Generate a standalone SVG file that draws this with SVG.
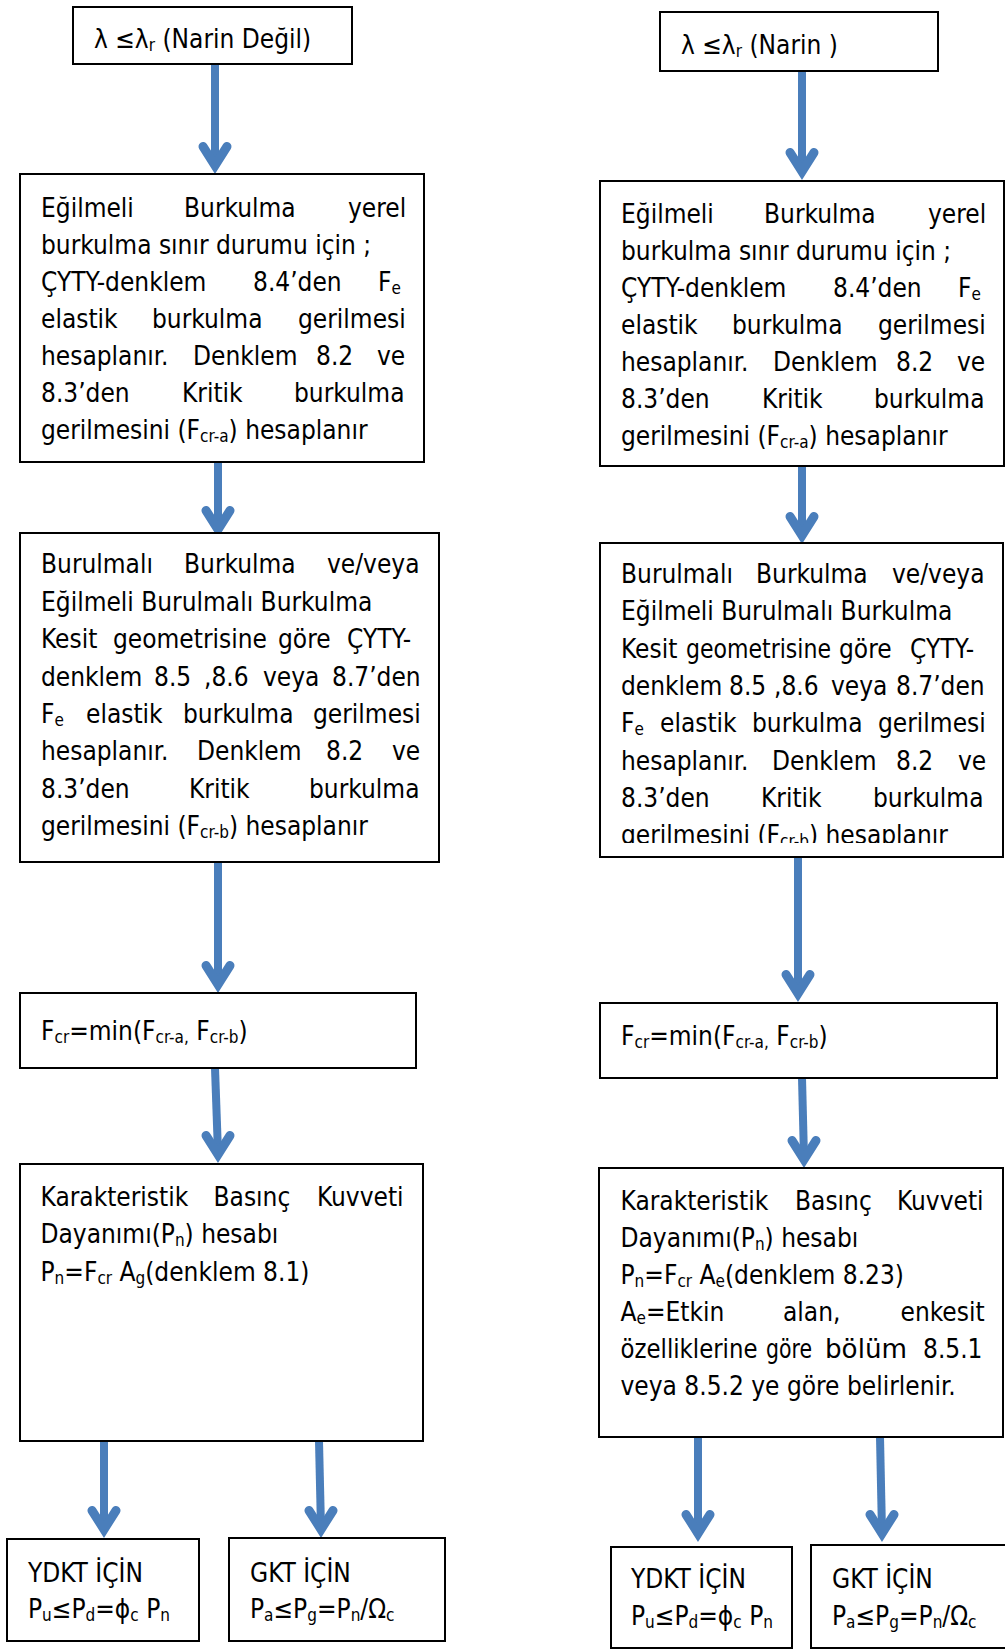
<svg xmlns="http://www.w3.org/2000/svg" xmlns:xlink="http://www.w3.org/1999/xlink" width="1005" height="1650" viewBox="0 0 1005 1650">
<style>
.box{fill:#fff;stroke:#000;stroke-width:2}
text{font-family:"DejaVu Sans Condensed","DejaVu Sans",sans-serif;font-size:26px;fill:#000}
.s{font-size:17px}
.shaft{stroke:#4A7EBB;stroke-width:8;fill:none}
.head{stroke:#4A7EBB;stroke-width:9;fill:none;stroke-linecap:round;stroke-linejoin:miter}
</style>
<defs>
<path id="head" class="head" d="M-12,-27.5 L0,-8.5 L12,-27.5"/>
<clipPath id="clipR3"><rect x="600" y="543" width="404" height="300"/></clipPath>
</defs>

<g id="connectors">
<line class="shaft" x1="215" y1="64" x2="215" y2="164"/><use href="#head" x="215" y="174"/>
<line class="shaft" x1="802" y1="71" x2="802" y2="170"/><use href="#head" x="802" y="180"/>
<line class="shaft" x1="218" y1="462" x2="218" y2="528"/><use href="#head" x="218" y="538"/>
<line class="shaft" x1="802" y1="466" x2="802" y2="534"/><use href="#head" x="802" y="544"/>
<line class="shaft" x1="218" y1="862" x2="218" y2="983"/><use href="#head" x="218" y="993"/>
<line class="shaft" x1="798" y1="857" x2="798" y2="992"/><use href="#head" x="798" y="1002"/>
<line class="shaft" x1="215" y1="1068" x2="218" y2="1153"/><use href="#head" x="218" y="1163"/>
<line class="shaft" x1="802" y1="1078" x2="804" y2="1158"/><use href="#head" x="804" y="1168"/>
<line class="shaft" x1="104" y1="1441" x2="104" y2="1528"/><use href="#head" x="104" y="1538"/>
<line class="shaft" x1="319" y1="1441" x2="321" y2="1528"/><use href="#head" x="321" y="1538"/>
<line class="shaft" x1="698" y1="1437" x2="698" y2="1532"/><use href="#head" x="698" y="1542"/>
<line class="shaft" x1="880" y1="1437" x2="882" y2="1532"/><use href="#head" x="882" y="1542"/>
</g>

<g id="n1">
<rect class="box" x="73" y="7" width="279" height="57"/>
<text x="94" y="48">λ ≤λ<tspan class="s" dy="3">r</tspan><tspan dy="-3"> (Narin Değil)</tspan></text>
</g>

<g id="n2">
<rect class="box" x="660" y="12" width="278" height="59"/>
<text x="681" y="54">λ ≤λ<tspan class="s" dy="3">r</tspan><tspan dy="-3"> (Narin )</tspan></text>
</g>

<g id="n3">
<rect class="box" x="20" y="174" width="404" height="288"/>
<text y="216.5"><tspan x="41">Eğilmeli</tspan><tspan x="184">Burkulma</tspan><tspan x="348">yerel</tspan></text>
<text x="41" y="253.5">burkulma sınır durumu için ;</text>
<text y="290.5"><tspan x="41">ÇYTY-denklem</tspan><tspan x="253">8.4’den</tspan><tspan x="378">F</tspan><tspan class="s" dy="3">e</tspan></text>
<text y="327.5"><tspan x="41">elastik</tspan><tspan x="152">burkulma</tspan><tspan x="298">gerilmesi</tspan></text>
<text y="364.5"><tspan x="41">hesaplanır.</tspan><tspan x="193">Denklem</tspan><tspan x="316">8.2</tspan><tspan x="377">ve</tspan></text>
<text y="401.5"><tspan x="41">8.3’den</tspan><tspan x="182">Kritik</tspan><tspan x="294">burkulma</tspan></text>
<text x="41" y="438.5">gerilmesini (F<tspan class="s" dy="3">cr-a</tspan><tspan dy="-3">) hesaplanır</tspan></text>
</g>

<g id="n4">
<rect class="box" x="600" y="181" width="404" height="285"/>
<text y="223.2"><tspan x="621">Eğilmeli</tspan><tspan x="764">Burkulma</tspan><tspan x="928">yerel</tspan></text>
<text x="621" y="260.2">burkulma sınır durumu için ;</text>
<text y="297.2"><tspan x="621">ÇYTY-denklem</tspan><tspan x="833">8.4’den</tspan><tspan x="958">F</tspan><tspan class="s" dy="3">e</tspan></text>
<text y="334.2"><tspan x="621">elastik</tspan><tspan x="732">burkulma</tspan><tspan x="878">gerilmesi</tspan></text>
<text y="371.2"><tspan x="621">hesaplanır.</tspan><tspan x="773">Denklem</tspan><tspan x="896">8.2</tspan><tspan x="957">ve</tspan></text>
<text y="408.2"><tspan x="621">8.3’den</tspan><tspan x="762">Kritik</tspan><tspan x="874">burkulma</tspan></text>
<text x="621" y="445.2">gerilmesini (F<tspan class="s" dy="3">cr-a</tspan><tspan dy="-3">) hesaplanır</tspan></text>
</g>

<g id="n5">
<rect class="box" x="20" y="533" width="419" height="329"/>
<text y="573.3"><tspan x="41">Burulmalı</tspan><tspan x="184">Burkulma</tspan><tspan x="327">ve/veya</tspan></text>
<text x="41" y="610.7">Eğilmeli Burulmalı Burkulma</text>
<text y="648.1"><tspan x="41">Kesit</tspan><tspan x="113">geometrisine</tspan><tspan x="278">göre</tspan><tspan x="347">ÇYTY-</tspan></text>
<text y="685.5"><tspan x="41">denklem</tspan><tspan x="154">8.5</tspan><tspan x="204">,8.6</tspan><tspan x="263">veya</tspan><tspan x="332">8.7’den</tspan></text>
<text y="722.9"><tspan x="41">F</tspan><tspan class="s" dy="3">e</tspan><tspan x="86" dy="-3">elastik</tspan><tspan x="183">burkulma</tspan><tspan x="313">gerilmesi</tspan></text>
<text y="760.3"><tspan x="41">hesaplanır.</tspan><tspan x="197">Denklem</tspan><tspan x="326">8.2</tspan><tspan x="392">ve</tspan></text>
<text y="797.7"><tspan x="41">8.3’den</tspan><tspan x="189">Kritik</tspan><tspan x="309">burkulma</tspan></text>
<text x="41" y="835.1">gerilmesini (F<tspan class="s" dy="3">cr-b</tspan><tspan dy="-3">) hesaplanır</tspan></text>
</g>

<g id="n6">
<rect class="box" x="600" y="543" width="403" height="314"/>
<g clip-path="url(#clipR3)">
<text y="583"><tspan x="621">Burulmalı</tspan><tspan x="756">Burkulma</tspan><tspan x="892">ve/veya</tspan></text>
<text x="621" y="620.3">Eğilmeli Burulmalı Burkulma</text>
<text y="657.6"><tspan x="621">Kesit</tspan><tspan x="686" textLength="145" lengthAdjust="spacingAndGlyphs">geometrisine</tspan><tspan x="839">göre</tspan><tspan x="910">ÇYTY-</tspan></text>
<text y="694.9"><tspan x="621">denklem</tspan><tspan x="729">8.5</tspan><tspan x="774">,8.6</tspan><tspan x="831">veya</tspan><tspan x="896">8.7’den</tspan></text>
<text y="732.2"><tspan x="621">F</tspan><tspan class="s" dy="3">e</tspan><tspan x="660" dy="-3">elastik</tspan><tspan x="752">burkulma</tspan><tspan x="878">gerilmesi</tspan></text>
<text y="769.5"><tspan x="621">hesaplanır.</tspan><tspan x="772">Denklem</tspan><tspan x="896">8.2</tspan><tspan x="958">ve</tspan></text>
<text y="806.8"><tspan x="621">8.3’den</tspan><tspan x="761">Kritik</tspan><tspan x="873">burkulma</tspan></text>
<text x="621" y="844.1">gerilmesini (F<tspan class="s" dy="3">cr-b</tspan><tspan dy="-3">) hesaplanır</tspan></text>
</g>
</g>

<g id="n7">
<rect class="box" x="20" y="993" width="396" height="75"/>
<text x="41" y="1040">F<tspan class="s" dy="3">cr</tspan><tspan dy="-3">=min(F</tspan><tspan class="s" dy="3">cr-a,</tspan><tspan dy="-3"> F</tspan><tspan class="s" dy="3">cr-b</tspan><tspan dy="-3">)</tspan></text>
</g>

<g id="n8">
<rect class="box" x="600" y="1003" width="397" height="75"/>
<text x="621" y="1045">F<tspan class="s" dy="3">cr</tspan><tspan dy="-3">=min(F</tspan><tspan class="s" dy="3">cr-a,</tspan><tspan dy="-3"> F</tspan><tspan class="s" dy="3">cr-b</tspan><tspan dy="-3">)</tspan></text>
</g>

<g id="n9">
<rect class="box" x="20" y="1164" width="403" height="277"/>
<text y="1205.5"><tspan x="40.5">Karakteristik</tspan><tspan x="213.5">Basınç</tspan><tspan x="317">Kuvveti</tspan></text>
<text x="40.5" y="1243">Dayanımı(P<tspan class="s" dy="3">n</tspan><tspan dy="-3">) hesabı</tspan></text>
<text x="40.5" y="1280.5">P<tspan class="s" dy="3">n</tspan><tspan dy="-3">=F</tspan><tspan class="s" dy="3">cr</tspan><tspan dy="-3"> A</tspan><tspan class="s" dy="3">g</tspan><tspan dy="-3">(denklem 8.1)</tspan></text>
</g>

<g id="n10">
<rect class="box" x="599" y="1168" width="404" height="269"/>
<text y="1210"><tspan x="620.5">Karakteristik</tspan><tspan x="795">Basınç</tspan><tspan x="897">Kuvveti</tspan></text>
<text x="620.5" y="1247">Dayanımı(P<tspan class="s" dy="3">n</tspan><tspan dy="-3">) hesabı</tspan></text>
<text x="620.5" y="1284">P<tspan class="s" dy="3">n</tspan><tspan dy="-3">=F</tspan><tspan class="s" dy="3">cr</tspan><tspan dy="-3"> A</tspan><tspan class="s" dy="3">e</tspan><tspan dy="-3">(denklem 8.23)</tspan></text>
<text y="1321"><tspan x="620.5">A</tspan><tspan class="s" dy="3">e</tspan><tspan dy="-3">=Etkin</tspan><tspan x="783">alan,</tspan><tspan x="900.5">enkesit</tspan></text>
<text y="1358"><tspan x="620.5" textLength="137" lengthAdjust="spacingAndGlyphs">özelliklerine</tspan><tspan x="766" textLength="46" lengthAdjust="spacingAndGlyphs">göre</tspan><tspan x="825" textLength="82" lengthAdjust="spacingAndGlyphs">bölüm</tspan><tspan x="923">8.5.1</tspan></text>
<text x="620.5" y="1395">veya 8.5.2 ye göre belirlenir.</text>
</g>

<g id="n11">
<rect class="box" x="7" y="1539" width="192" height="102"/>
<text x="28" y="1582">YDKT İÇİN</text>
<text x="28" y="1618">P<tspan class="s" dy="3">u</tspan><tspan dy="-3">≤P</tspan><tspan class="s" dy="3">d</tspan><tspan dy="-3">=ϕ</tspan><tspan class="s" dy="3">c</tspan><tspan dy="-3"> P</tspan><tspan class="s" dy="3">n</tspan></text>
</g>

<g id="n12">
<rect class="box" x="229" y="1538" width="216" height="103"/>
<text x="250" y="1582">GKT İÇİN</text>
<text x="250" y="1618">P<tspan class="s" dy="3">a</tspan><tspan dy="-3">≤P</tspan><tspan class="s" dy="3">g</tspan><tspan dy="-3">=P</tspan><tspan class="s" dy="3">n</tspan><tspan dy="-3">/Ω</tspan><tspan class="s" dy="3">c</tspan></text>
</g>

<g id="n13">
<rect class="box" x="611" y="1547" width="181" height="101"/>
<text x="631" y="1588">YDKT İÇİN</text>
<text x="631" y="1625">P<tspan class="s" dy="3">u</tspan><tspan dy="-3">≤P</tspan><tspan class="s" dy="3">d</tspan><tspan dy="-3">=ϕ</tspan><tspan class="s" dy="3">c</tspan><tspan dy="-3"> P</tspan><tspan class="s" dy="3">n</tspan></text>
</g>

<g id="n14">
<rect class="box" x="811" y="1545" width="200" height="103"/>
<text x="832" y="1588">GKT İÇİN</text>
<text x="832" y="1625">P<tspan class="s" dy="3">a</tspan><tspan dy="-3">≤P</tspan><tspan class="s" dy="3">g</tspan><tspan dy="-3">=P</tspan><tspan class="s" dy="3">n</tspan><tspan dy="-3">/Ω</tspan><tspan class="s" dy="3">c</tspan></text>
</g>
</svg>
